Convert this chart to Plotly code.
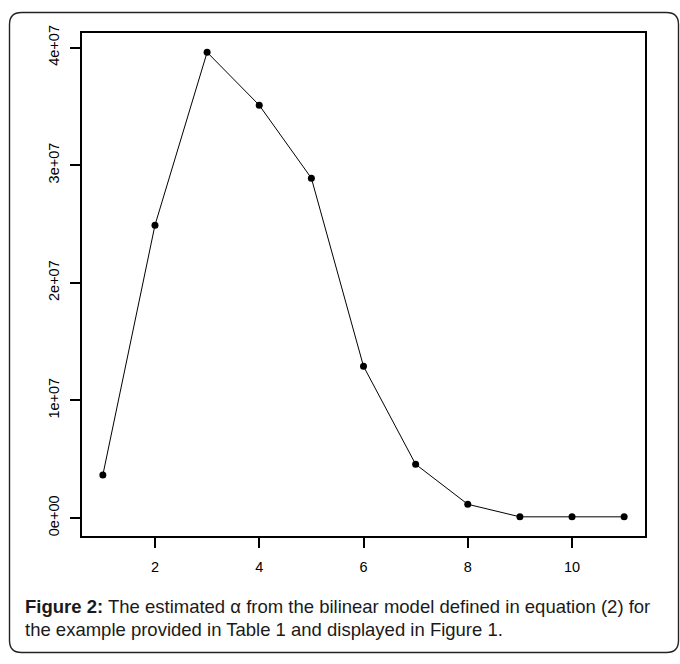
import plotly.graph_objects as go

x_vals = [1, 2, 3, 4, 5, 6, 7, 8, 9, 10, 11]
alpha_vals = [3.66e6, 2.49e7, 3.96e7, 3.51e7, 2.89e7, 1.29e7, 4.57e6, 1.17e6, 1.0e5, 1.0e5, 1.0e5]
x_ticks = [2, 4, 6, 8, 10]
y_ticks = [0, 1e7, 2e7, 3e7, 4e7]
y_tick_labels = ["0e+00", "1e+07", "2e+07", "3e+07", "4e+07"]
caption_1 = "<b>Figure 2:</b> The estimated α from the bilinear model defined in equation (2) for"
caption_2 = "the example provided in Table 1 and displayed in Figure 1."

W, H = 680, 664
L, R, T, B = 82, 645, 33, 536
pw, ph = R - L, B - T

def px(xp):
    return (xp - L) / pw

def py(yp):
    return (B - yp) / ph

fig = go.Figure()
fig.add_trace(go.Scatter(
    x=x_vals, y=alpha_vals, mode="lines+markers",
    line=dict(color="black", width=1),
    marker=dict(color="black", size=7, symbol="circle"),
    showlegend=False,
))

# outer rounded border
bx0, bx1, by0, by1, r = 9.5, 678.5, 12.5, 652.5, 12
path = (
    f"M {px(bx0 + r)},{py(by0)} L {px(bx1 - r)},{py(by0)} "
    f"Q {px(bx1)},{py(by0)} {px(bx1)},{py(by0 + r)} "
    f"L {px(bx1)},{py(by1 - r)} Q {px(bx1)},{py(by1)} {px(bx1 - r)},{py(by1)} "
    f"L {px(bx0 + r)},{py(by1)} Q {px(bx0)},{py(by1)} {px(bx0)},{py(by1 - r)} "
    f"L {px(bx0)},{py(by0 + r)} Q {px(bx0)},{py(by0)} {px(bx0 + r)},{py(by0)} Z"
)
fig.add_shape(type="path", path=path, xref="paper", yref="paper",
              line=dict(color="#222222", width=1.4), layer="below")

font_fam = "Liberation Sans, Arial, sans-serif"
fig.add_annotation(text=caption_1, xref="paper", yref="paper",
                   x=px(23), y=py(606), xanchor="left", yanchor="middle",
                   showarrow=False, font=dict(family=font_fam, size=18.5, color="#1a1a1a"))
fig.add_annotation(text=caption_2, xref="paper", yref="paper",
                   x=px(23), y=py(629), xanchor="left", yanchor="middle",
                   showarrow=False, font=dict(family=font_fam, size=18.5, color="#1a1a1a"))

fig.update_layout(
    width=W, height=H,
    margin=dict(l=L, r=W - R, t=T, b=H - B),
    paper_bgcolor="white", plot_bgcolor="white",
    font=dict(family=font_fam, size=14.5, color="black"),
    xaxis=dict(range=[0.6, 11.4], tickvals=x_ticks, ticks="outside", ticklen=10,
               tickwidth=1.5, tickcolor="black", showline=True, linecolor="black",
               linewidth=2, mirror=True, showgrid=False, zeroline=False,
               ticklabelstandoff=7),
    yaxis=dict(range=[-1.53e6, 4.124e7], tickvals=y_ticks, ticktext=y_tick_labels,
               tickangle=-90, ticks="outside", ticklen=10, tickwidth=1.5,
               tickcolor="black", showline=True, linecolor="black", linewidth=2,
               mirror=True, showgrid=False, zeroline=False, ticklabelstandoff=5),
)

fig.write_html("out.html")
